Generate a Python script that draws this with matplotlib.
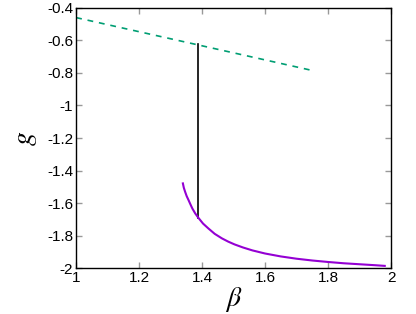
import matplotlib.pyplot as plt
import numpy as np

# green dashed branch (straight segment)
beta_upper = [1.0, 1.75]
g_upper = [-0.46, -0.785]

# black vertical jump
beta_jump = [1.386, 1.386]
g_jump = [-0.622, -1.692]

# purple branch
beta_lower = [1.339, 1.342, 1.346, 1.351, 1.357, 1.363, 1.369, 1.378, 1.388, 1.403, 1.420,
              1.440, 1.463, 1.483, 1.503, 1.53, 1.56, 1.60, 1.65, 1.70, 1.75, 1.80,
              1.85, 1.90, 1.95, 1.98]
g_lower = [-1.479, -1.506, -1.530, -1.557, -1.582, -1.608, -1.633, -1.663, -1.690, -1.726, -1.756,
           -1.789, -1.817, -1.837, -1.854, -1.873, -1.891, -1.910, -1.928, -1.942, -1.953, -1.962,
           -1.970, -1.976, -1.982, -1.986]

xticks = [1, 1.2, 1.4, 1.6, 1.8, 2]
xticklabels = ["1", "1.2", "1.4", "1.6", "1.8", "2"]
yticks = [-2, -1.8, -1.6, -1.4, -1.2, -1, -0.8, -0.6, -0.4]
yticklabels = ["-2", "-1.8", "-1.6", "-1.4", "-1.2", "-1", "-0.8", "-0.6", "-0.4"]

plt.rcParams['font.family'] = ['Liberation Sans', 'DejaVu Sans']
plt.rcParams['mathtext.fontset'] = 'stix'

fig = plt.figure(figsize=(4.16, 3.14), dpi=100)
ax = fig.add_axes([0.183, 0.146, 0.757, 0.829])

ax.plot(beta_upper, g_upper, color='#009e73', lw=1.2, linestyle=(0, (3.5, 3.5)))
ax.plot(beta_jump, g_jump, color='black', lw=1.2)
ax.plot(beta_lower, g_lower, color='#9400d3', lw=1.5)

ax.set_xlim(1, 2)
ax.set_ylim(-2, -0.4)
ax.set_xticks(xticks)
ax.set_xticklabels(xticklabels)
ax.set_yticks(yticks)
ax.set_yticklabels(yticklabels)
ax.tick_params(direction='in', top=True, right=True, length=4, width=1,
               color='#999999', labelsize=11, pad=2)
for s in ax.spines.values():
    s.set_linewidth(1.0)

ax.set_xlabel(r'$\beta$', fontsize=20, labelpad=0)
ax.set_ylabel(r'$g$', fontsize=20, labelpad=6)

fig.savefig('out.png', dpi=100)
